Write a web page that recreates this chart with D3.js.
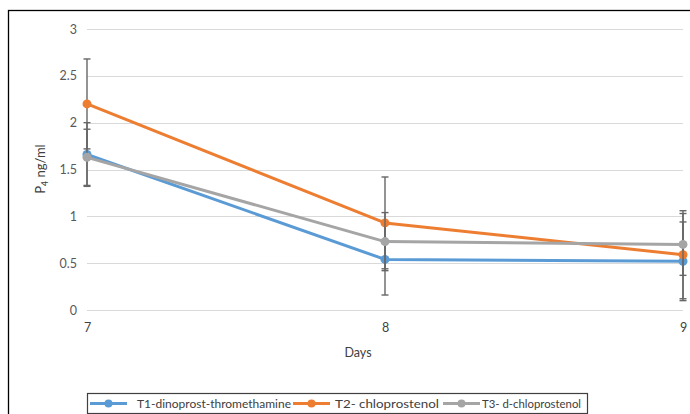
<!DOCTYPE html>
<html><head><meta charset="utf-8">
<script src="https://cdn.jsdelivr.net/npm/d3@7"></script>
<style>body{margin:0;background:#fff}svg{display:block}text{font-family:Lato,"Liberation Sans",sans-serif}</style>
</head><body>
<svg id="c" width="690" height="414"></svg>
<script>
const days = [7, 8, 9];
const seriesNames = ["T1-dinoprost-thromethamine", "T2- chloprostenol", "T3- d-chloprostenol"];
const t1Values = [1.66, 0.54, 0.52];
const t2Values = [2.20, 0.93, 0.59];
const t3Values = [1.63, 0.73, 0.70];
const t1Errors = [0.34, 0.38, 0.42];
const t2Errors = [0.48, 0.49, 0.47];
const t3Errors = [0.30, 0.31, 0.33];
const yTicks = [0, 0.5, 1, 1.5, 2, 2.5, 3];
const colors = ["#5B9BD5", "#ED7D31", "#A5A5A5"];

const series = [
  {name: seriesNames[0], values: t1Values, errors: t1Errors, color: colors[0]},
  {name: seriesNames[1], values: t2Values, errors: t2Errors, color: colors[1]},
  {name: seriesNames[2], values: t3Values, errors: t3Errors, color: colors[2]}
];

const svg = d3.select("#c");
svg.append("rect").attr("x", 8.5).attr("y", 10.5).attr("width", 700).attr("height", 420)
  .attr("fill", "none").attr("stroke", "#000").attr("stroke-width", 1.3);

const x = d3.scaleLinear().domain([7, 9]).range([87, 683]);
const y = d3.scaleLinear().domain([0, 3]).range([310, 29]);

svg.append("g").selectAll("line").data(yTicks).join("line")
  .attr("x1", 87).attr("x2", 683)
  .attr("y1", d => Math.round(y(d)) + 0.5).attr("y2", d => Math.round(y(d)) + 0.5)
  .attr("stroke", "#d9d9d9").attr("stroke-width", 1.2);

const yAxis = d3.axisLeft(y).tickValues(yTicks).tickSize(0).tickPadding(10).tickFormat(d3.format("~g"));
const gy = svg.append("g").attr("transform", "translate(87,0)").call(yAxis);
gy.select(".domain").remove();
gy.selectAll("text").attr("font-size", 12.5).attr("fill", "#595959");

const xAxis = d3.axisBottom(x).tickValues(days).tickSize(0).tickPadding(13).tickFormat(d3.format("d"));
const gx = svg.append("g").attr("transform", "translate(0,310)").call(xAxis);
gx.select(".domain").remove();
gx.selectAll("text").attr("font-size", 12.5).attr("fill", "#404040");

svg.append("text").attr("x", 358).attr("y", 357).attr("text-anchor", "middle")
  .attr("font-size", 12.5).attr("fill", "#404040").text("Days");
const yt = svg.append("text").attr("transform", "translate(45,169) rotate(-90)")
  .attr("text-anchor", "middle").attr("font-size", 13).attr("fill", "#404040");
yt.append("tspan").text("P");
yt.append("tspan").attr("font-size", 8.5).attr("dy", 3).text("4");
yt.append("tspan").attr("dy", -3).text(" ng/ml");

const line = d3.line().x((d, i) => x(days[i])).y(d => y(d));

series.forEach(s => {
  const g = svg.append("g");
  days.forEach((dd, i) => {
    const cx = x(dd), hi = y(s.values[i] + s.errors[i]), lo = y(s.values[i] - s.errors[i]);
    g.append("line").attr("x1", cx).attr("x2", cx).attr("y1", hi).attr("y2", lo)
      .attr("stroke", "#666").attr("stroke-width", 1.4);
    [hi, lo].forEach(yy => g.append("line").attr("x1", cx - 3.5).attr("x2", cx + 3.5)
      .attr("y1", yy).attr("y2", yy).attr("stroke", "#666").attr("stroke-width", 1.4));
  });
  g.append("path").datum(s.values).attr("d", line).attr("fill", "none")
    .attr("stroke", s.color).attr("stroke-width", 3).attr("stroke-linejoin", "round");
  g.selectAll("circle").data(s.values).join("circle")
    .attr("cx", (d, i) => x(days[i])).attr("cy", d => y(d)).attr("r", 4.5).attr("fill", s.color);
});

svg.append("rect").attr("x", 87.5).attr("y", 393.5).attr("width", 500).attr("height", 20)
  .attr("fill", "#fff").attr("stroke", "#404040").attr("stroke-width", 1.2);
const legSample = [90, 293, 443];
const legText = [137, 335, 482];
const legWidth = [154, 104, 99];
series.forEach((s, i) => {
  const g = svg.append("g").attr("transform", `translate(0,403.5)`);
  g.append("line").attr("x1", legSample[i]).attr("x2", legSample[i] + 37).attr("stroke", s.color).attr("stroke-width", 3);
  g.append("circle").attr("cx", legSample[i] + 18.5).attr("r", 4).attr("fill", s.color);
  g.append("text").attr("x", legText[i]).attr("dy", "0.35em").attr("font-size", 12)
    .attr("textLength", legWidth[i]).attr("lengthAdjust", "spacingAndGlyphs")
    .attr("fill", "#404040").text(s.name);
});
</script>
</body></html>
